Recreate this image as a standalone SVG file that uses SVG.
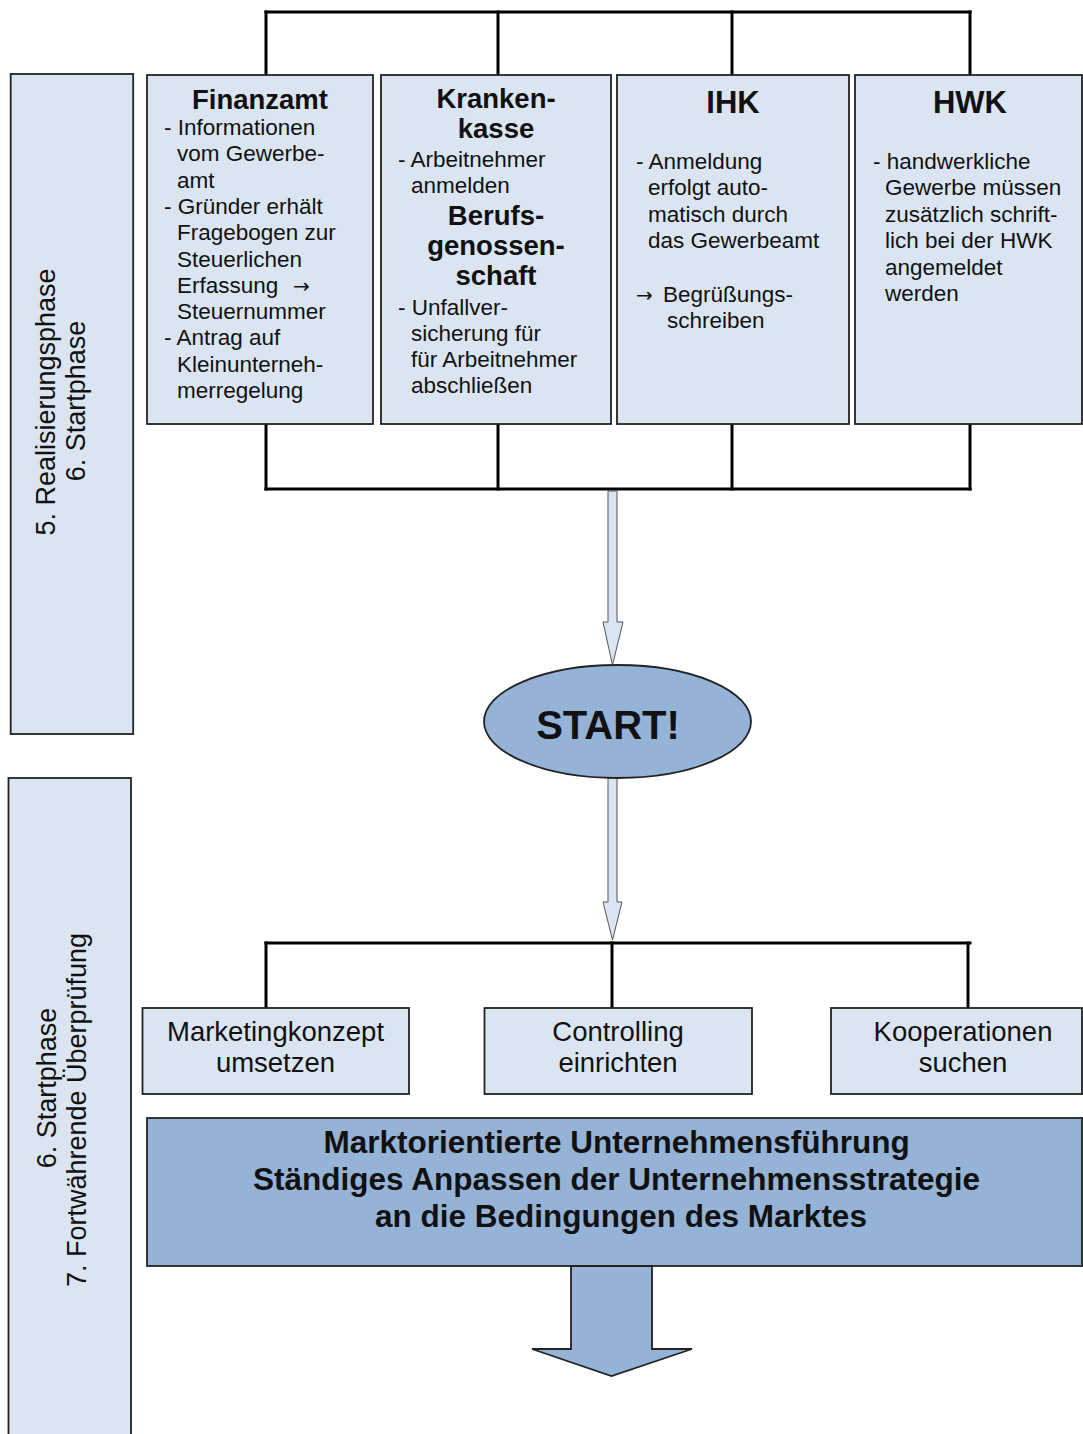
<svg xmlns="http://www.w3.org/2000/svg" width="1083" height="1434" viewBox="0 0 1083 1434">
<style>
text{font-family:"Liberation Sans",Arial,sans-serif;fill:#111}
.box{fill:#dbe5f1;stroke:#222;stroke-width:1.8}
.dark{fill:#95b3d7;stroke:#222;stroke-width:1.8}
.title{font-weight:bold;font-size:27.5px;text-anchor:middle}
.big{font-weight:bold;font-size:31px;text-anchor:middle}
.body{font-size:22.5px}
.arr{font-family:"DejaVu Sans",sans-serif;font-size:20px}
.side{font-size:27px;text-anchor:middle}
.lbl{font-size:27.5px;text-anchor:middle}
.conn line{stroke:#000;stroke-width:3;stroke-linecap:square}
.harrow{fill:#dbe5f1;stroke:#555;stroke-width:1}
</style>

<g id="phase1">
<rect class="box" x="10.7" y="74" width="122.5" height="660"/>
<text class="side" transform="translate(55,402) rotate(-90)">5. Realisierungsphase</text>
<text class="side" transform="translate(85,401) rotate(-90)">6. Startphase</text>
</g>
<g id="phase2">
<rect class="box" x="8.5" y="778" width="122.5" height="680"/>
<text class="side" transform="translate(56,1088) rotate(-90)">6. Startphase</text>
<text class="side" transform="translate(86,1110) rotate(-90)">7. Fortwährende Überprüfung</text>
</g>

<g class="conn" id="connectors">
<line x1="266" y1="12" x2="970" y2="12"/>
<line x1="266" y1="12" x2="266" y2="75"/>
<line x1="498" y1="12" x2="498" y2="75"/>
<line x1="732" y1="12" x2="732" y2="75"/>
<line x1="970" y1="12" x2="970" y2="75"/>
<line x1="266" y1="424" x2="266" y2="489"/>
<line x1="498" y1="424" x2="498" y2="489"/>
<line x1="732" y1="424" x2="732" y2="489"/>
<line x1="970" y1="424" x2="970" y2="489"/>
<line x1="266" y1="489" x2="970" y2="489"/>
<line x1="266" y1="943" x2="970" y2="943"/>
<line x1="266" y1="943" x2="266" y2="1008"/>
<line x1="612" y1="943" x2="612" y2="1008"/>
<line x1="968" y1="943" x2="968" y2="1008"/>
<polygon class="harrow" points="608,491 617,491 617,622 623,622 612.5,665 603,622 608,622"/>
<polygon class="harrow" points="608,778 617,778 617,902 622,902 612.5,940 603,902 608,902"/>
</g>

<g id="finanzamt">
<rect class="box" x="147" y="75" width="226" height="349"/>
<text class="title" x="260" y="109">Finanzamt</text>
<text class="body">
<tspan x="164" y="135">- Informationen</tspan>
<tspan x="177" y="161.3">vom Gewerbe-</tspan>
<tspan x="177" y="187.6">amt</tspan>
<tspan x="164" y="213.9">- Gründer erhält</tspan>
<tspan x="177" y="240.2">Fragebogen zur</tspan>
<tspan x="177" y="266.5">Steuerlichen</tspan>
<tspan x="177" y="292.8">Erfassung</tspan><tspan class="arr" x="293" y="292.8">→</tspan>
<tspan x="177" y="319.1">Steuernummer</tspan>
<tspan x="164" y="345.4">- Antrag auf</tspan>
<tspan x="177" y="371.7">Kleinunterneh-</tspan>
<tspan x="177" y="398">merregelung</tspan>
</text>
</g>

<g id="krankenkasse">
<rect class="box" x="381" y="75" width="230" height="349"/>
<text class="title"><tspan x="496" y="108">Kranken-</tspan><tspan x="496" y="138">kasse</tspan></text>
<text class="body">
<tspan x="398" y="167">- Arbeitnehmer</tspan>
<tspan x="411" y="193">anmelden</tspan>
</text>
<text class="title"><tspan x="496" y="225">Berufs-</tspan><tspan x="496" y="255">genossen-</tspan><tspan x="496" y="285">schaft</tspan></text>
<text class="body">
<tspan x="398" y="315">- Unfallver-</tspan>
<tspan x="411" y="341">sicherung für</tspan>
<tspan x="411" y="367">für Arbeitnehmer</tspan>
<tspan x="411" y="393">abschließen</tspan>
</text>
</g>

<g id="ihk">
<rect class="box" x="617" y="75" width="232" height="349"/>
<text class="big" x="733" y="113">IHK</text>
<text class="body">
<tspan x="636" y="169">- Anmeldung</tspan>
<tspan x="648" y="195.4">erfolgt auto-</tspan>
<tspan x="648" y="221.8">matisch durch</tspan>
<tspan x="648" y="248.2">das Gewerbeamt</tspan>
<tspan class="arr" x="636" y="301.8">→</tspan><tspan x="663" y="301.8">Begrüßungs-</tspan>
<tspan x="667" y="328">schreiben</tspan>
</text>
</g>

<g id="hwk">
<rect class="box" x="855" y="75" width="227" height="349"/>
<text class="big" x="970" y="113">HWK</text>
<text class="body">
<tspan x="873" y="169">- handwerkliche</tspan>
<tspan x="885" y="195.4">Gewerbe müssen</tspan>
<tspan x="885" y="221.8">zusätzlich schrift-</tspan>
<tspan x="885" y="248.2">lich bei der HWK</tspan>
<tspan x="885" y="274.6">angemeldet</tspan>
<tspan x="885" y="301">werden</tspan>
</text>
</g>

<g id="start">
<ellipse class="dark" cx="617.5" cy="721.5" rx="133.5" ry="56.5"/>
<text x="608" y="739" style="font-weight:bold;font-size:40px;text-anchor:middle">START!</text>
</g>

<g id="marketing">
<rect class="box" x="142.5" y="1008" width="266.5" height="86"/>
<text class="lbl"><tspan x="275.5" y="1041">Marketingkonzept</tspan><tspan x="275.5" y="1072">umsetzen</tspan></text>
</g>
<g id="controlling">
<rect class="box" x="484.5" y="1008" width="267.5" height="86"/>
<text class="lbl"><tspan x="618" y="1041">Controlling</tspan><tspan x="618" y="1072">einrichten</tspan></text>
</g>
<g id="kooperationen">
<rect class="box" x="831" y="1008" width="251" height="86"/>
<text class="lbl"><tspan x="963" y="1041">Kooperationen</tspan><tspan x="963" y="1072">suchen</tspan></text>
</g>

<g id="strategie">
<rect class="dark" x="147" y="1118" width="935" height="148"/>
<text style="font-weight:bold;font-size:31.5px;text-anchor:middle">
<tspan x="621" y="1153">Marktorientierte Unternehmensführung</tspan>
<tspan x="621" y="1190">Ständiges Anpassen der Unternehmensstrategie</tspan>
<tspan x="621" y="1227">an die Bedingungen des Marktes</tspan>
</text>
</g>

<g id="bigarrow">
<polygon class="dark" points="571,1266 652,1266 652,1349 692,1349 611.5,1376 532,1349 571,1349"/>
</g>
</svg>
